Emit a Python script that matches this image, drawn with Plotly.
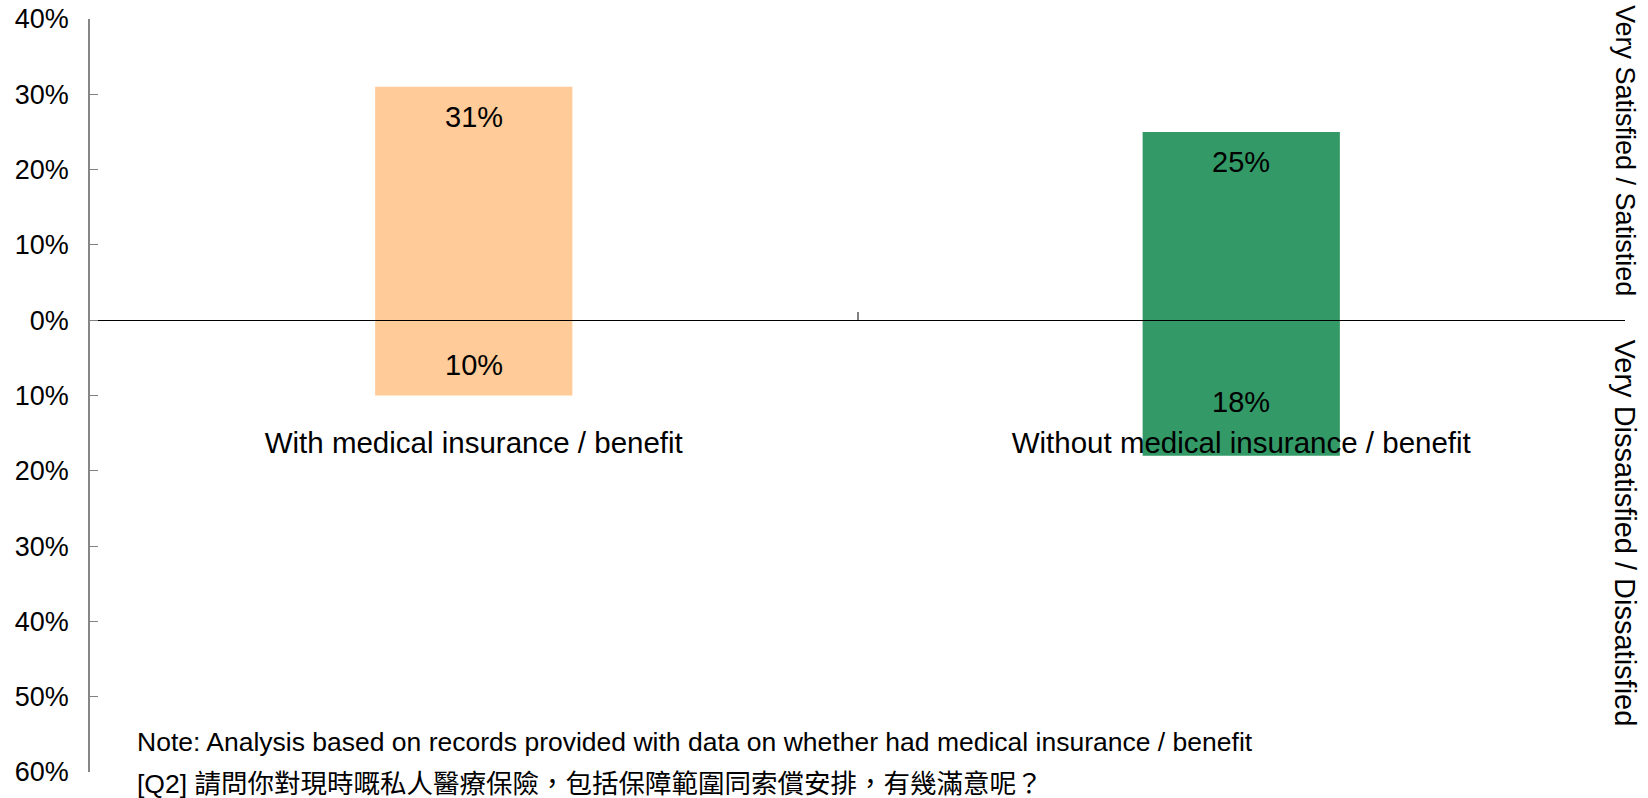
import plotly.graph_objects as go

categories = ["With medical insurance / benefit", "Without medical insurance / benefit"]
satisfied = [31, 25]
dissatisfied = [10, 18]
bar_colors = ["#FFCC99", "#339966"]
tick_vals = [-60, -50, -40, -30, -20, -10, 0, 10, 20, 30, 40]

FONT = "Liberation Sans, Arial, sans-serif"
CJK = "Liberation Sans, Noto Sans CJK TC, sans-serif"

fig = go.Figure()
fig.add_trace(go.Bar(x=categories, y=satisfied, marker_color=bar_colors,
                     marker_line_width=0, hoverinfo="skip"))
fig.add_trace(go.Bar(x=categories, y=[-v for v in dissatisfied], marker_color=bar_colors,
                     marker_line_width=0, hoverinfo="skip"))

# value labels inside the bars
for cat, v in zip(categories, satisfied):
    fig.add_annotation(x=cat, y=v - 4, text=f"{v}%", showarrow=False,
                       font=dict(size=29, color="#000000"))
for cat, v in zip(categories, dissatisfied):
    fig.add_annotation(x=cat, y=-v * 0.6, text=f"{v}%", showarrow=False,
                       font=dict(size=29, color="#000000"))

# side labels
fig.add_annotation(xref="paper", yref="paper", x=1.0, y=0.826, xanchor="center", yanchor="middle",
                   text="Very Satisfied / Satistied",
                   textangle=90, showarrow=False, font=dict(size=27, color="#000000"))
fig.add_annotation(xref="paper", yref="paper", x=1.0, y=0.318, xanchor="center", yanchor="middle",
                   text="Very Dissatisfied / Dissatisfied",
                   textangle=90, showarrow=False, font=dict(size=29, color="#000000"))

# footnotes
fig.add_annotation(xref="paper", yref="paper", x=0.0293, y=0.0395, xanchor="left", yanchor="middle",
                   text="Note: Analysis based on records provided with data on whether had medical insurance / benefit",
                   showarrow=False, font=dict(size=26.5, color="#000000"))
fig.add_annotation(xref="paper", yref="paper", x=0.0293, y=-0.0155, xanchor="left", yanchor="middle",
                   text="[Q2] 請問你對現時嘅私人醫療保險，包括保障範圍同索償安排，有幾滿意呢？",
                   showarrow=False, font=dict(size=26.5, color="#000000", family=CJK))

fig.update_layout(
    width=1648,
    height=798,
    barmode="relative",
    bargap=0.743,
    showlegend=False,
    paper_bgcolor="white",
    plot_bgcolor="white",
    font=dict(family=FONT, color="#000000"),
    margin=dict(l=90, r=23, t=19, b=26, autoexpand=False),
    xaxis=dict(
        anchor="free",
        position=0.6,
        automargin=False,
        showline=True,
        linecolor="#000000",
        linewidth=1.2,
        ticks="inside",
        tickson="boundaries",
        ticklen=8,
        tickcolor="#808080",
        tickwidth=1.5,
        ticklabelstandoff=96,
        tickfont=dict(size=29.5, color="#000000"),
        showgrid=False,
        zeroline=False,
    ),
    yaxis=dict(
        range=[-60, 40],
        automargin=False,
        tickvals=tick_vals,
        ticktext=[f"{abs(v)}%" for v in tick_vals],
        showline=True,
        linecolor="#868686",
        linewidth=1.5,
        ticks="inside",
        ticklen=8,
        tickcolor="#808080",
        ticklabelstandoff=14,
        tickfont=dict(size=27, color="#000000"),
        showgrid=False,
        zeroline=False,
    ),
)

fig.write_html("out.html", config={"displayModeBar": False},
               post_script="document.body.style.margin='0';")
